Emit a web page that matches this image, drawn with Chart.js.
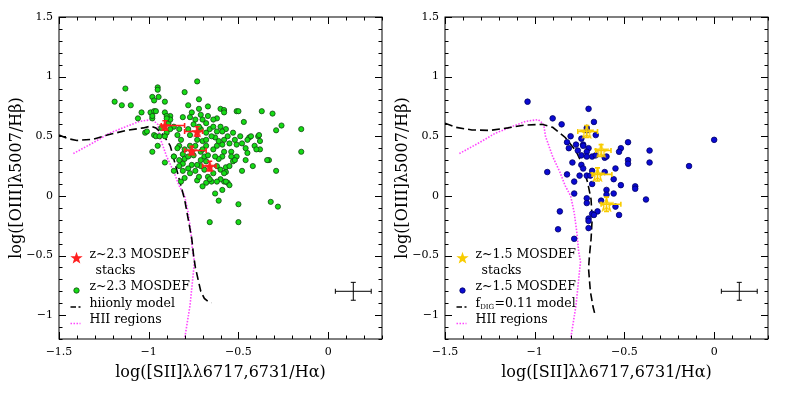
<!DOCTYPE html>
<html>
<head>
<meta charset="utf-8">
<script src="https://cdn.jsdelivr.net/npm/chart.js@4.4.0/dist/chart.umd.min.js"></script>
<style>
  body { margin: 0; background: #fff; }
  #wrap { position: relative; width: 788px; height: 394px; }
  .panel { position: absolute; top: 0; width: 394px; height: 394px; }
</style>
</head>
<body>
<div id="wrap">
  <div class="panel" style="left:0"><canvas id="left" width="394" height="394"></canvas></div>
  <div class="panel" style="left:386px"><canvas id="right" width="394" height="394"></canvas></div>
</div>
<script>
// axes
const xTicks = [-1.5, -1, -0.5, 0];
const yTicks = [-1, -0.5, 0, 0.5, 1, 1.5];
const xMin = -1.5, xMax = 0.3, yMin = -1.2, yMax = 1.5;

// z~2.3 MOSDEF galaxies
const z23X = [
  -1.19,-1.13,-1.15,-1.10,-0.95,-0.95,-0.98,-0.945,-0.97,-1.04,-1.06,-0.99,-0.97,-0.96,-0.91,-0.91,-0.88,-1.02,-1.01,-0.98,
  -0.97,-0.96,-0.95,-0.94,-0.98,-0.91,-0.86,-0.80,-0.86,-0.82,-0.80,-0.78,-0.73,-0.72,-0.76,-0.77,-0.81,-0.74,-0.72,-0.67,
  -0.60,-0.58,-0.58,-0.62,-0.60,-0.51,-0.50,-0.47,-0.37,-0.31,-0.29,-0.26,-0.15,-0.15,-0.29,-0.32,-0.28,-0.50,-0.50,-0.66,
  -0.61,-0.63,-0.59,-0.56,-0.58,-0.65,-0.68,-0.73,-0.80,-0.33,-0.34,-0.38,-0.42,-0.45,-0.46,-0.48,-0.44,-0.39,-0.385,-0.41,
  -0.45,-0.48,-0.51,-0.52,-0.53,-0.57,-0.56,-0.58,-0.59,-0.58,-0.59,-0.61,-0.62,-0.57,-0.57,-0.60,-0.64,-0.67,-0.69,-0.71,
  -0.73,-0.76,-0.78,-0.81,-0.83,-0.81,-0.77,-0.74,-0.71,-0.69,-0.67,-0.68,-0.63,-0.64,-0.62,-0.61,-0.63,-0.65,-0.68,-0.71,
  -0.72,-0.75,-0.78,-0.77,-0.73,-0.70,-0.68,-0.74,-0.77,-0.80,-0.83,-0.82,-0.84,-0.83,-0.86,-0.89,-0.88,-0.90,-0.91,-0.81,
  -0.78,-0.75,-0.76,-0.71,-0.70,-0.68,-0.66,-0.64,-0.68,-0.70,-0.71,-0.67,-0.64,-0.62,-0.59,-0.55,-0.54,-0.51,-0.54,-0.53,
  -0.60,-0.57,-0.55,-0.66,-0.70,-0.72,-0.83,-0.86,-0.84,-0.52,-0.46,-0.49,-0.43,-0.40,-0.38,-0.58,-0.62,-0.55,-0.90,-0.93,
  -0.88,-0.90,-0.98
];
const z23Y = [
  0.79,0.90,0.76,0.76,0.91,0.89,0.83,0.83,0.80,0.70,0.65,0.70,0.71,0.71,0.79,0.70,0.67,0.53,0.54,0.65,
  0.51,0.50,0.42,0.50,0.37,0.28,0.33,0.31,0.21,0.12,0.87,0.76,0.96,0.81,0.70,0.66,0.66,0.64,0.73,0.75,
  0.73,0.72,0.70,0.65,0.58,0.71,0.71,0.62,0.71,0.69,0.55,0.59,0.56,0.37,0.21,-0.05,-0.09,-0.07,-0.22,-0.22,
  -0.04,0.02,0.05,0.11,0.12,0.12,0.11,0.13,0.15,0.30,0.30,0.39,0.25,0.36,0.30,0.21,0.49,0.50,0.51,0.42,
  0.47,0.44,0.43,0.47,0.53,0.56,0.50,0.47,0.43,0.37,0.33,0.31,0.25,0.24,0.20,0.22,0.19,0.16,0.22,0.25,
  0.26,0.26,0.23,0.27,0.25,0.21,0.19,0.21,0.30,0.33,0.34,0.29,0.33,0.39,0.42,0.46,0.49,0.50,0.53,0.56,
  0.58,0.60,0.56,0.51,0.47,0.46,0.42,0.42,0.42,0.39,0.42,0.47,0.51,0.56,0.58,0.61,0.56,0.53,0.50,0.35,
  0.33,0.34,0.37,0.37,0.39,0.47,0.56,0.58,0.61,0.64,0.68,0.67,0.64,0.54,0.54,0.44,0.37,0.33,0.33,0.29,
  0.14,0.12,0.09,0.14,0.08,0.16,0.30,0.33,0.40,0.30,0.40,0.50,0.50,0.39,0.46,0.19,0.12,0.25,0.67,0.57,
  0.64,0.65,0.67
];

// z~2.3 stacks
const stack23X = [-0.91, -0.73, -0.76, -0.66];
const stack23Y = [0.59, 0.54, 0.38, 0.25];
const stack23XLo = [0.02, 0.07, 0.04, 0.04];
const stack23XHi = [0.11, 0.03, 0.08, 0.035];
const stack23YErr = [0.04, 0.04, 0.035, 0.04];

// hiionly model
const hiiOnlyX = [-1.50,-1.45,-1.40,-1.31,-1.22,-1.12,-1.03,-0.99,-0.96,-0.92,-0.88,-0.855,-0.83,-0.80,-0.78,-0.76,-0.75,-0.74,-0.725,-0.71,-0.69,-0.67,-0.65];
const hiiOnlyY = [0.51,0.48,0.465,0.475,0.515,0.55,0.57,0.585,0.57,0.515,0.42,0.28,0.14,-0.03,-0.195,-0.36,-0.50,-0.60,-0.70,-0.80,-0.86,-0.885,-0.895];

// HII regions
const hiiRegX = [-1.42,-1.31,-1.22,-1.12,-1.05,-0.98,-0.95,-0.94,-0.90,-0.86,-0.83,-0.80,-0.78,-0.765,-0.755,-0.745,-0.755,-0.77,-0.80];
const hiiRegY = [0.355,0.445,0.525,0.585,0.625,0.64,0.60,0.50,0.33,0.20,0.085,0.0,-0.14,-0.31,-0.47,-0.55,-0.70,-0.92,-1.2];

// z~1.5 MOSDEF galaxies
const z15X = [
  -1.04,-0.90,-0.85,-0.70,-0.67,-0.71,-0.66,-0.80,-0.74,-0.82,-0.77,-0.73,-0.81,-0.73,-0.70,-0.76,-0.71,-0.74,-0.71,-0.68,
  -0.66,-0.61,-0.60,-0.52,-0.53,-0.48,-0.36,-0.48,-0.48,-0.36,-0.79,-0.74,-0.73,-0.55,-0.93,-0.68,-0.61,-0.82,-0.75,-0.71,
  -0.69,-0.78,-0.68,-0.52,-0.78,-0.60,-0.56,-0.44,-0.44,-0.71,-0.38,-0.63,-0.71,-0.55,-0.86,-0.65,-0.68,-0.67,-0.53,-0.70,
  -0.70,-0.87,-0.70,-0.78,-0.14,0.00,-0.71,-0.60,-0.56
];
const z15Y = [
  0.79,0.65,0.60,0.73,0.62,0.57,0.51,0.50,0.48,0.45,0.43,0.43,0.40,0.42,0.40,0.38,0.37,0.34,0.33,0.33,
  0.34,0.32,0.33,0.40,0.37,0.45,0.38,0.30,0.27,0.28,0.28,0.26,0.23,0.23,0.20,0.21,0.20,0.18,0.17,0.17,
  0.17,0.12,0.10,0.09,0.02,0.05,0.02,0.08,0.06,-0.02,-0.03,-0.04,-0.06,-0.09,-0.13,-0.13,-0.15,-0.16,-0.16,-0.19,
  -0.21,-0.28,-0.27,-0.36,0.25,0.47,0.55,0.01,0.14
];

// z~1.5 stacks
const stack15X = [-0.71, -0.63, -0.65, -0.60];
const stack15Y = [0.54, 0.38, 0.18, -0.07];
const stack15XLo = [0.05, 0.03, 0.03, 0.03];
const stack15XHi = [0.06, 0.055, 0.08, 0.08];
const stack15YErr = [0.05, 0.05, 0.055, 0.06];

// f_DIG = 0.11 model
const fdigX = [-1.50,-1.44,-1.35,-1.25,-1.15,-1.06,-0.96,-0.90,-0.83,-0.77,-0.735,-0.705,-0.686,-0.68,-0.686,-0.695,-0.70,-0.69,-0.675,-0.665];
const fdigY = [0.61,0.575,0.553,0.549,0.57,0.593,0.60,0.575,0.49,0.376,0.265,0.112,-0.028,-0.195,-0.362,-0.50,-0.61,-0.80,-0.93,-0.99];

// typical uncertainty
const typErrX = [0.14], typErrY = [-0.8];
const typErrDX = [0.1], typErrDY = [0.075];

const RED = '#ff1f1f', GOLD = '#f8cc00', MAGENTA = '#ff44ff';
const serif = 'DejaVu Serif';

function pts(xs, ys) { return xs.map((x, i) => ({ x: x, y: ys[i] })); }

function starImage(color, size, filled) {
  const c = document.createElement('canvas');
  c.width = c.height = size;
  const g = c.getContext('2d');
  const r = size / 2 - 1, ri = r * 0.4, cx = size / 2, cy = size / 2 + 0.8;
  g.beginPath();
  for (let k = 0; k < 10; k++) {
    const rr = k % 2 ? ri : r;
    const a = -Math.PI / 2 + k * Math.PI / 5;
    g.lineTo(cx + rr * Math.cos(a), cy + rr * Math.sin(a));
  }
  g.closePath();
  if (filled) { g.fillStyle = color; g.fill(); }
  else { g.strokeStyle = color; g.lineWidth = 1.4; g.stroke(); }
  return c;
}
const redStar = starImage(RED, 15, true);
const goldStar = starImage(GOLD, 15, false);
const goldStarKey = starImage(GOLD, 15, true);

const fmt = v => String(v).replace('-', '\u2212');

// box with inward major/minor ticks on all sides
const framePlugin = {
  id: 'frame',
  afterDatasetsDraw(chart) {
    const { ctx, chartArea: a, scales: { x, y } } = chart;
    ctx.save();
    ctx.strokeStyle = '#000';
    ctx.lineWidth = 1;
    ctx.strokeRect(a.left, a.top, a.right - a.left, a.bottom - a.top);
    ctx.beginPath();
    for (let i = 0; i <= 18; i++) {
      const v = xMin + i * 0.1;
      const major = Math.abs(v * 2 - Math.round(v * 2)) < 1e-6;
      const len = major ? 7 : 3.5;
      const px = Math.round(x.getPixelForValue(v)) + 0.5;
      ctx.moveTo(px, a.bottom); ctx.lineTo(px, a.bottom - len);
      ctx.moveTo(px, a.top); ctx.lineTo(px, a.top + len);
    }
    for (let i = 0; i <= 27; i++) {
      const v = yMin + i * 0.1;
      const major = Math.abs(v * 2 - Math.round(v * 2)) < 1e-6;
      const len = major ? 7 : 3.5;
      const py = Math.round(y.getPixelForValue(v)) + 0.5;
      ctx.moveTo(a.left, py); ctx.lineTo(a.left + len, py);
      ctx.moveTo(a.right, py); ctx.lineTo(a.right - len, py);
    }
    ctx.stroke();
    ctx.restore();
  }
};

// error bars from dataset.errors
const errorPlugin = {
  id: 'errbars',
  beforeDatasetDraw(chart, args) {
    const ds = chart.data.datasets[args.index];
    if (!ds.errors) return;
    const e = ds.errors;
    const { ctx, scales: { x, y } } = chart;
    const cap = e.cap;
    ctx.save();
    ctx.strokeStyle = e.color;
    ctx.lineWidth = e.width;
    ctx.beginPath();
    ds.data.forEach((p, i) => {
      const px = x.getPixelForValue(p.x), py = y.getPixelForValue(p.y);
      const x0 = x.getPixelForValue(p.x - e.xLo[i]), x1 = x.getPixelForValue(p.x + e.xHi[i]);
      const y0 = y.getPixelForValue(p.y - e.yLo[i]), y1 = y.getPixelForValue(p.y + e.yHi[i]);
      ctx.moveTo(x0, py); ctx.lineTo(x1, py);
      ctx.moveTo(px, y0); ctx.lineTo(px, y1);
      ctx.moveTo(x0, py - cap); ctx.lineTo(x0, py + cap);
      ctx.moveTo(x1, py - cap); ctx.lineTo(x1, py + cap);
      ctx.moveTo(px - cap, y0); ctx.lineTo(px + cap, y0);
      ctx.moveTo(px - cap, y1); ctx.lineTo(px + cap, y1);
    });
    ctx.stroke();
    ctx.restore();
  }
};

// legend in the lower left corner
const keyPlugin = {
  id: 'key',
  afterDraw(chart, args, opts) {
    const { ctx, chartArea: a } = chart;
    const k = opts.items;
    const mx = a.left + 17.5, tx = a.left + 30.5;
    ctx.save();
    ctx.fillStyle = '#000';
    ctx.font = '12.5px "' + serif + '"';
    ctx.textBaseline = 'middle';
    ctx.textAlign = 'left';
    // stacks
    ctx.drawImage(k.star, mx - k.star.width / 2, a.top + 240.5 - k.star.height / 2);
    ctx.fillText(k.stackText, tx, a.top + 238);
    ctx.fillText('stacks', tx + 6, a.top + 253.5);
    // galaxies
    ctx.beginPath();
    ctx.arc(mx, a.top + 273.5, 2.7, 0, Math.PI * 2);
    ctx.fillStyle = k.dotFill; ctx.fill();
    ctx.strokeStyle = k.dotEdge; ctx.lineWidth = 0.8; ctx.stroke();
    ctx.fillStyle = '#000';
    ctx.fillText(k.dotText, tx, a.top + 270);
    // model
    ctx.strokeStyle = '#000'; ctx.lineWidth = 1.6;
    ctx.beginPath();
    ctx.moveTo(mx - 6, a.top + 290); ctx.lineTo(mx - 0.5, a.top + 290);
    ctx.moveTo(mx + 2, a.top + 290); ctx.lineTo(mx + 4, a.top + 290);
    ctx.stroke();
    if (k.dig) {
      ctx.fillText('f', tx, a.top + 286.5);
      const fw = ctx.measureText('f').width;
      ctx.font = '7px "' + serif + '"';
      ctx.fillText('DIG', tx + fw, a.top + 290);
      const dw = ctx.measureText('DIG').width;
      ctx.font = '12.5px "' + serif + '"';
      ctx.fillText('=0.11 model', tx + fw + dw + 0.5, a.top + 286.5);
    } else {
      ctx.fillText(k.modelText, tx, a.top + 286.5);
    }
    // HII regions
    ctx.strokeStyle = MAGENTA; ctx.lineWidth = 1.6;
    ctx.setLineDash([1.5, 1.5]);
    ctx.beginPath();
    ctx.moveTo(mx - 6, a.top + 306.5); ctx.lineTo(mx + 4, a.top + 306.5);
    ctx.stroke();
    ctx.setLineDash([]);
    ctx.fillText('HII regions', tx, a.top + 303);
    ctx.restore();
  }
};

function makeChart(id, datasets, items) {
  return new Chart(document.getElementById(id), {
    type: 'scatter',
    data: { datasets: datasets },
    options: {
      responsive: false,
      animation: false,
      devicePixelRatio: 1,
      layout: { padding: { top: 17, right: 12, left: 0, bottom: 0 } },
      plugins: {
        legend: { display: false },
        tooltip: { enabled: false },
        key: { items: items }
      },
      scales: {
        x: {
          type: 'linear', min: xMin, max: xMax,
          grid: { display: false, drawTicks: false },
          border: { display: false },
          afterBuildTicks: s => { s.ticks = xTicks.map(v => ({ value: v })); },
          afterFit: s => { s.height = 55; },
          ticks: { padding: 7, color: '#000', autoSkip: false, maxRotation: 0,
                   font: { family: serif, size: 11 }, callback: fmt },
          title: { display: true, text: 'log([SII]\u03bb\u03bb6717,6731/H\u03b1)', color: '#000',
                   font: { family: serif, size: 16 }, padding: { top: 0, bottom: 12 } }
        },
        y: {
          type: 'linear', min: yMin, max: yMax,
          grid: { display: false, drawTicks: false },
          border: { display: false },
          afterBuildTicks: s => { s.ticks = yTicks.map(v => ({ value: v })); },
          afterFit: s => { s.width = 59; },
          ticks: { padding: 6, color: '#000', autoSkip: false,
                   font: { family: serif, size: 11 }, callback: fmt },
          title: { display: true, text: 'log([OIII]\u03bb5007/H\u03b2)', color: '#000',
                   font: { family: serif, size: 16 }, padding: { top: 7, bottom: 0 } }
        }
      }
    },
    plugins: [framePlugin, errorPlugin, keyPlugin]
  });
}

function lineSet(xs, ys, color, dash, order) {
  return { data: pts(xs, ys), showLine: true, pointRadius: 0, borderColor: color,
           borderWidth: 1.6, borderDash: dash, tension: 0, fill: false, order: order };
}

function errCross() {
  return { data: pts(typErrX, typErrY), pointRadius: 0, order: 6,
           errors: { xLo: typErrDX, xHi: typErrDX, yLo: typErrDY, yHi: typErrDY,
                     color: '#000', width: 1, cap: 2.5 } };
}

makeChart('left', [
  { data: pts(stack23X, stack23Y), pointStyle: redStar, pointRadius: 7, order: 1,
    errors: { xLo: stack23XLo, xHi: stack23XHi, yLo: stack23YErr, yHi: stack23YErr,
              color: RED, width: 1.6, cap: 2.5 } },
  { data: pts(z23X, z23Y), pointRadius: 2.6, backgroundColor: '#14dc14',
    borderColor: '#144414', borderWidth: 0.8, order: 2 },
  lineSet(hiiOnlyX, hiiOnlyY, '#000', [8, 4], 3),
  lineSet(hiiRegX, hiiRegY, MAGENTA, [1.5, 1.5], 4),
  errCross()
], { star: redStar, stackText: 'z~2.3 MOSDEF', dotText: 'z~2.3 MOSDEF',
     dotFill: '#14dc14', dotEdge: '#144414', modelText: 'hiionly model', dig: false });

makeChart('right', [
  { data: pts(stack15X, stack15Y), pointStyle: goldStar, pointRadius: 7, order: 1,
    errors: { xLo: stack15XLo, xHi: stack15XHi, yLo: stack15YErr, yHi: stack15YErr,
              color: GOLD, width: 1.6, cap: 2.5 } },
  { data: pts(z15X, z15Y), pointRadius: 2.8, backgroundColor: '#0a0ad2',
    borderColor: '#000066', borderWidth: 0.8, order: 2 },
  lineSet(fdigX, fdigY, '#000', [8, 4], 3),
  lineSet(hiiRegX, hiiRegY, MAGENTA, [1.5, 1.5], 4),
  errCross()
], { star: goldStarKey, stackText: 'z~1.5 MOSDEF', dotText: 'z~1.5 MOSDEF',
     dotFill: '#0a0ad2', dotEdge: '#000066', dig: true });
</script>
</body>
</html>
